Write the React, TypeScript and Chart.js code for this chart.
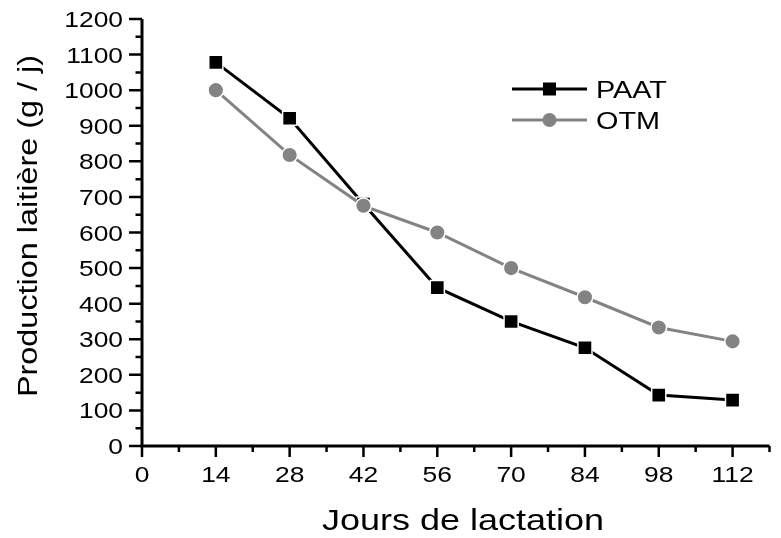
import React, { useEffect, useRef } from "react";
import { Chart, registerables } from "chart.js";

Chart.register(...registerables);

// Days of lactation and daily milk yield (g/day) for the two groups
const days = [14, 28, 42, 56, 70, 84, 98, 112];
const paat = [1078, 921, 680, 445, 350, 276, 143, 129];
const otm = [1000, 818, 675, 600, 500, 418, 333, 294];

const xTicks = [0, 14, 28, 42, 56, 70, 84, 98, 112];
const xMinorTicks = [7, 21, 35, 49, 63, 77, 91, 105, 119];
const yTicks = [0, 100, 200, 300, 400, 500, 600, 700, 800, 900, 1000, 1100, 1200];
const yMinorTicks = [50, 150, 250, 350, 450, 550, 650, 750, 850, 950, 1050, 1150];

const xTitle = "Jours de lactation";
const yTitle = "Production laitière (g / j)";
const seriesNames = ["PAAT", "OTM"];

const FONT = '"Liberation Sans", Arial, Helvetica, sans-serif';
const STRETCH = 1.2;
const GREY = "#838383";

function stretchedText(
  ctx: CanvasRenderingContext2D,
  text: string,
  x: number,
  y: number,
  size: number,
  align: CanvasTextAlign,
  rotate = 0
) {
  ctx.save();
  ctx.translate(x, y);
  if (rotate) ctx.rotate(rotate);
  ctx.scale(STRETCH, 1);
  ctx.font = `${size}px ${FONT}`;
  ctx.fillStyle = "#000";
  ctx.textAlign = align;
  ctx.textBaseline = "alphabetic";
  ctx.fillText(text, 0, 0);
  ctx.restore();
}

// Axes, ticks, tick labels and titles, drawn from the chart's own scales
const axesPlugin = {
  id: "originAxes",
  beforeDatasetsDraw(chart: any) {
    const { ctx, chartArea, scales } = chart;
    const xs = scales.x;
    const ys = scales.y;
    const left = chartArea.left;
    const bottom = chartArea.bottom;
    ctx.save();
    ctx.strokeStyle = "#000";
    ctx.lineCap = "butt";

    // axis lines
    ctx.lineWidth = 3;
    ctx.beginPath();
    ctx.moveTo(left, ys.getPixelForValue(1200));
    ctx.lineTo(left, bottom + 1.5);
    ctx.moveTo(left - 1.5, bottom);
    ctx.lineTo(chartArea.right, bottom);
    ctx.stroke();

    // ticks
    ctx.lineWidth = 2.5;
    ctx.beginPath();
    for (const v of yTicks) {
      const py = ys.getPixelForValue(v);
      ctx.moveTo(left, py);
      ctx.lineTo(left - 13, py);
    }
    for (const v of yMinorTicks) {
      const py = ys.getPixelForValue(v);
      ctx.moveTo(left, py);
      ctx.lineTo(left - 6.5, py);
    }
    for (const v of xTicks) {
      const px = xs.getPixelForValue(v);
      ctx.moveTo(px, bottom);
      ctx.lineTo(px, bottom + 11);
    }
    for (const v of xMinorTicks) {
      const px = xs.getPixelForValue(v);
      ctx.moveTo(px, bottom);
      ctx.lineTo(px, bottom + 6);
    }
    ctx.stroke();
    ctx.restore();

    // tick labels
    for (const v of yTicks) {
      stretchedText(ctx, String(v), left - 19, ys.getPixelForValue(v) + 8, 22, "right");
    }
    for (const v of xTicks) {
      stretchedText(ctx, String(v), xs.getPixelForValue(v), bottom + 36, 22, "center");
    }

    // axis titles
    stretchedText(ctx, xTitle, 463, 530, 30, "center");
    stretchedText(ctx, yTitle, 37, 226, 27, "center", -Math.PI / 2);
  },
  afterDatasetsDraw(chart: any) {
    const { ctx } = chart;
    const rows = [
      { name: seriesNames[0], color: "#000", y: 89, shape: "rect" },
      { name: seriesNames[1], color: GREY, y: 120, shape: "circle" },
    ];
    for (const r of rows) {
      ctx.save();
      ctx.strokeStyle = r.color;
      ctx.lineWidth = 3;
      ctx.beginPath();
      ctx.moveTo(512, r.y);
      ctx.lineTo(587, r.y);
      ctx.stroke();
      ctx.fillStyle = r.color;
      if (r.shape === "rect") {
        ctx.fillRect(549.5 - 6.5, r.y - 6.5, 13, 13);
      } else {
        ctx.beginPath();
        ctx.arc(549.5, r.y, 7, 0, Math.PI * 2);
        ctx.fill();
      }
      ctx.restore();
      stretchedText(ctx, r.name, 596, r.y + 8.5, 24, "left");
    }
  },
};

export default function App() {
  const canvasRef = useRef<HTMLCanvasElement | null>(null);

  useEffect(() => {
    const canvas = canvasRef.current;
    if (!canvas) return;
    const chart = new Chart(canvas, {
      type: "line",
      data: {
        labels: days,
        datasets: [
          {
            label: seriesNames[0],
            data: days.map((d, i) => ({ x: d, y: paat[i] })),
            borderColor: "#000",
            backgroundColor: "#000",
            borderWidth: 3,
            pointStyle: "rect",
            pointRadius: 10,
            pointBackgroundColor: "#000",
            pointBorderColor: "#fff",
            pointBorderWidth: 1.5,
            tension: 0,
            order: 2,
          },
          {
            label: seriesNames[1],
            data: days.map((d, i) => ({ x: d, y: otm[i] })),
            borderColor: GREY,
            backgroundColor: GREY,
            borderWidth: 3,
            pointStyle: "circle",
            pointRadius: 7.8,
            pointBackgroundColor: GREY,
            pointBorderColor: "#fff",
            pointBorderWidth: 1.5,
            tension: 0,
            order: 1,
          },
        ],
      },
      options: {
        responsive: false,
        animation: false,
        layout: { padding: { left: 142, right: 0, top: 19, bottom: 92 } },
        scales: {
          x: { type: "linear", min: 0, max: 119, display: false },
          y: { type: "linear", min: 0, max: 1200, display: false },
        },
        plugins: {
          legend: { display: false },
          tooltip: { enabled: false },
        },
        elements: { line: { borderCapStyle: "butt" } },
      },
      plugins: [axesPlugin],
    });
    return () => chart.destroy();
  }, []);

  return (
    <div style={{ position: "fixed", left: 0, top: 0, width: 781, height: 538, background: "#fff" }}>
      <canvas ref={canvasRef} width={781} height={538} style={{ display: "block" }} />
    </div>
  );
}
